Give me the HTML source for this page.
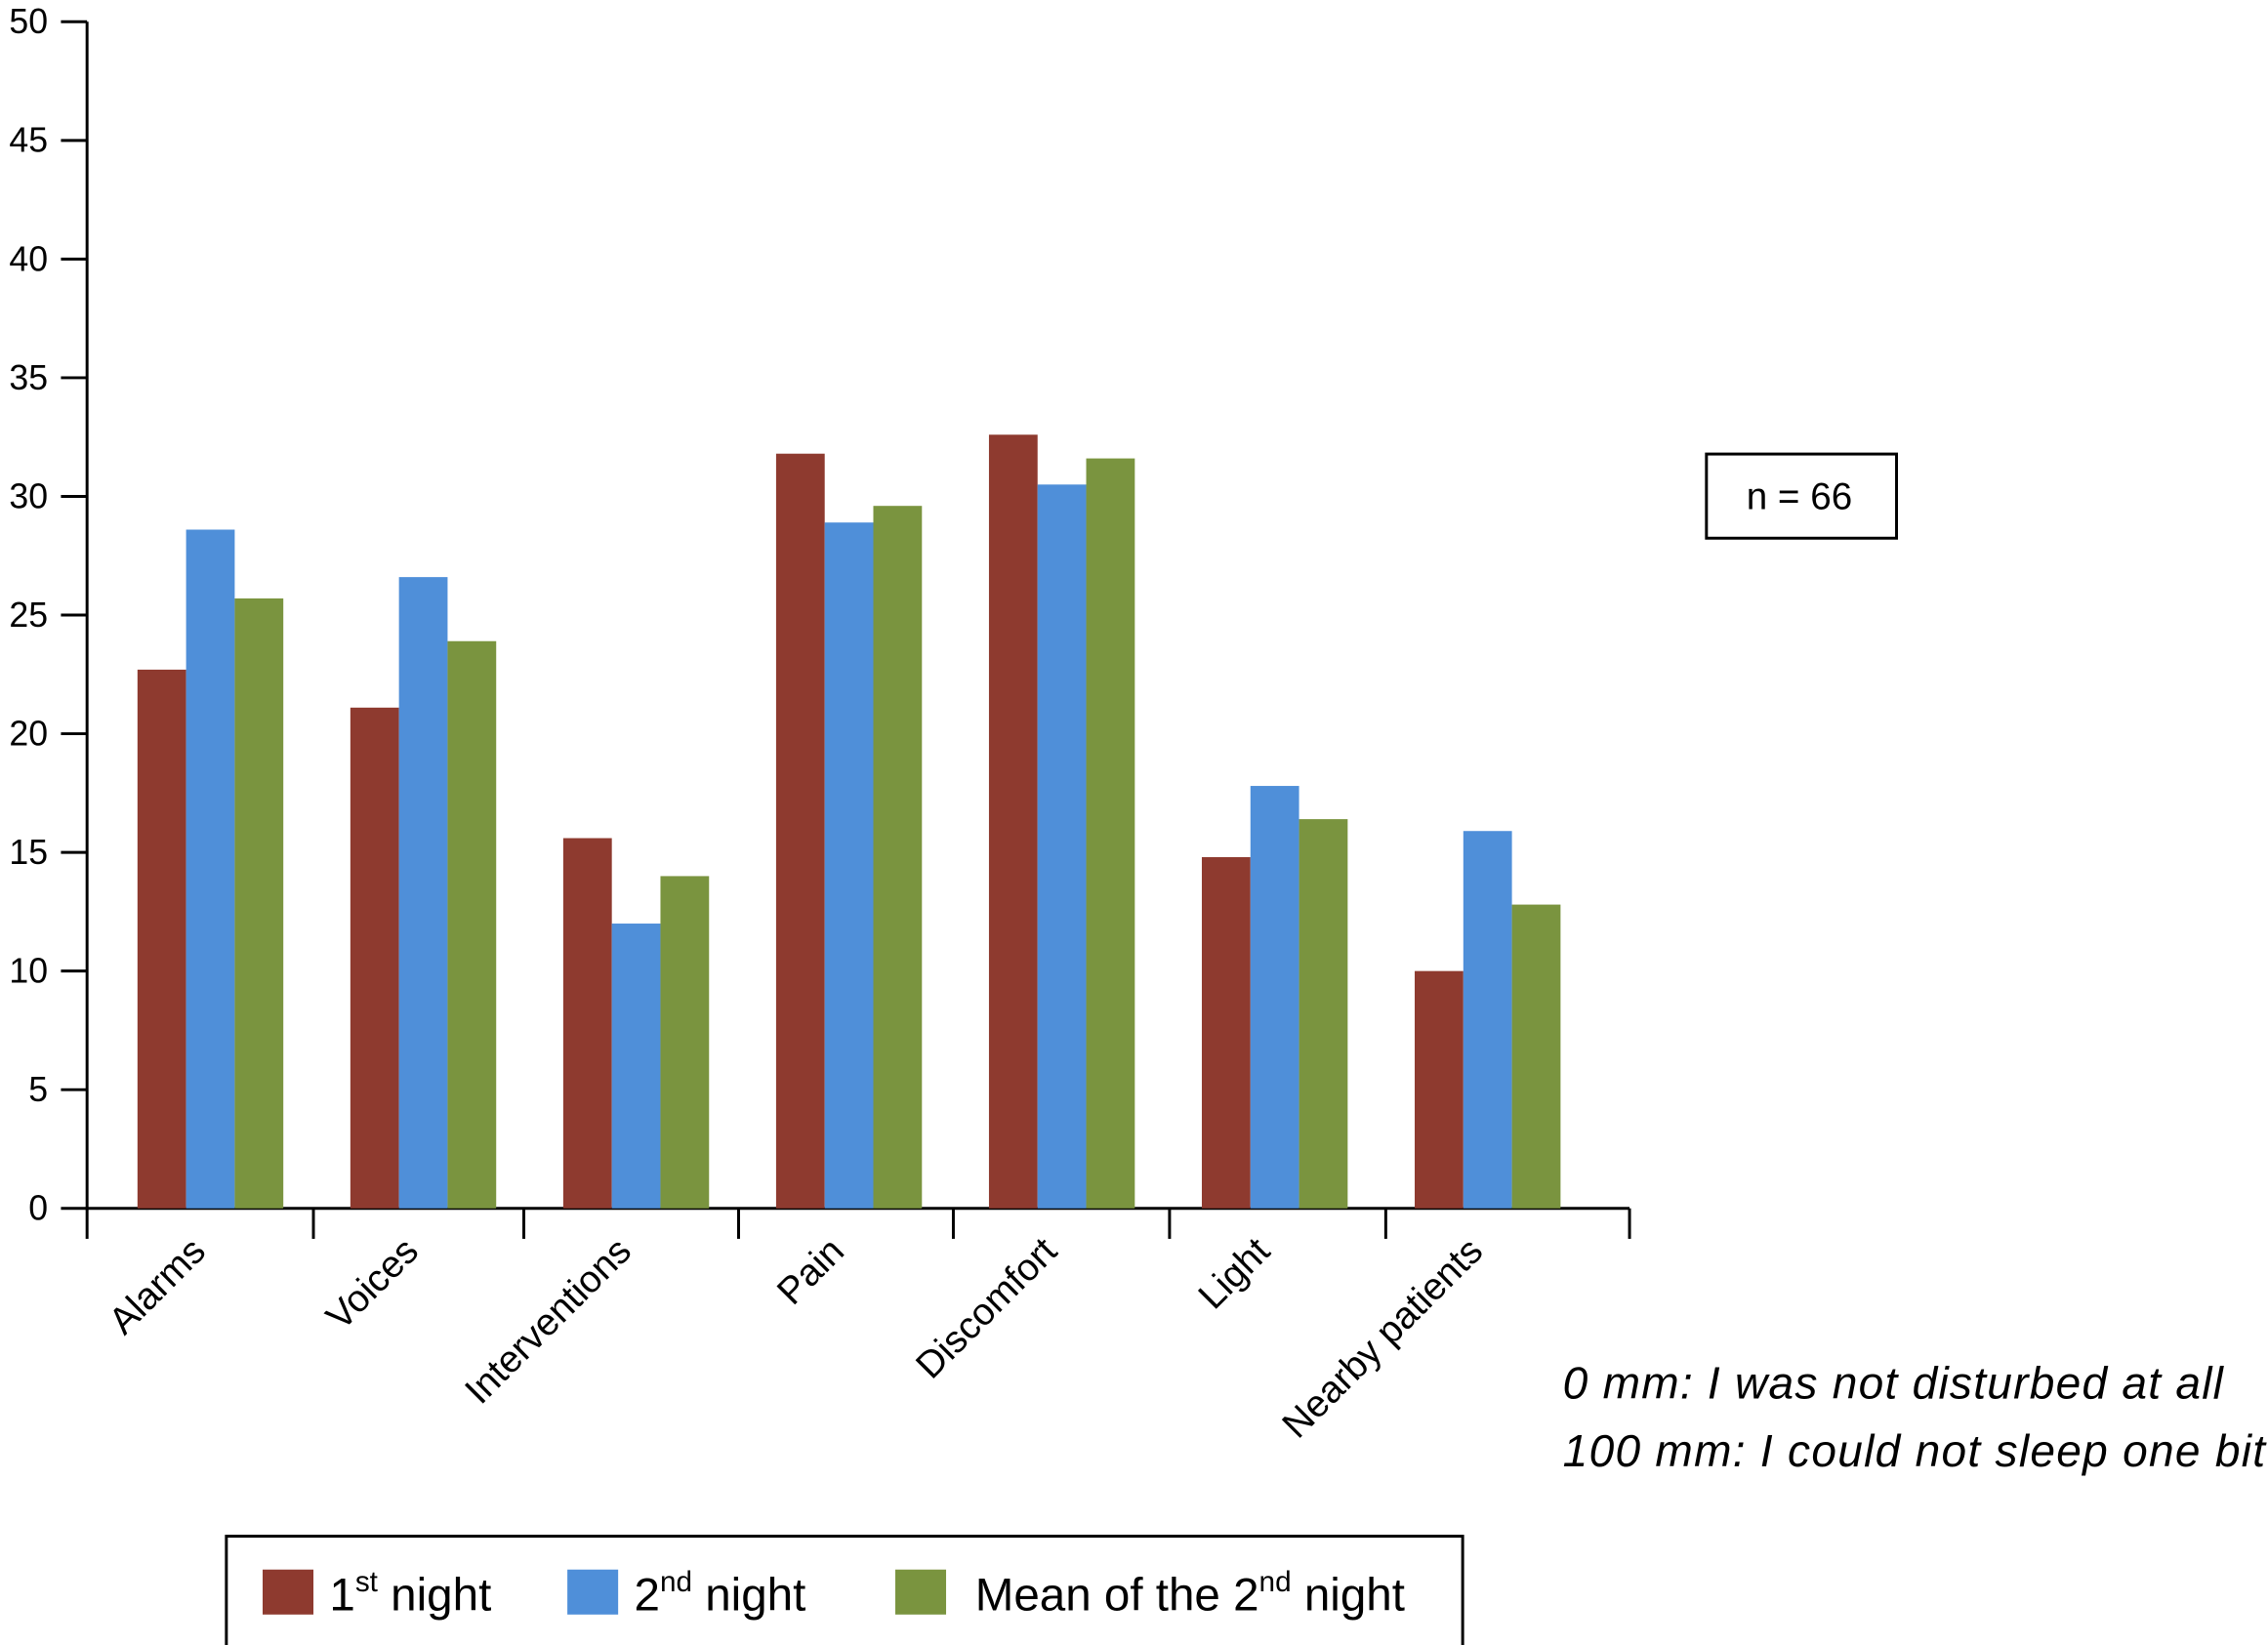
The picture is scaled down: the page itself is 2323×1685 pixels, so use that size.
<!DOCTYPE html>
<html><head><meta charset="utf-8"><style>html,body{margin:0;padding:0;background:#fff}svg{display:block}</style></head>
<body>
<svg width="2323" height="1685" viewBox="0 0 1563 1134" preserveAspectRatio="none" xmlns="http://www.w3.org/2000/svg" font-family="Liberation Sans, Arial, sans-serif">
<g id="axes"></g>
<g id="bars"></g>
<g>
<rect x="1176" y="313" width="131" height="58" fill="#fff" stroke="#000" stroke-width="2"/>
<text x="1240" y="351" font-size="26" text-anchor="middle">n = 66</text>
</g>
<g font-style="italic" font-size="31">
<text x="1077" y="964" textLength="455">0 mm: I was not disturbed at all</text>
<text x="1077" y="1011" textLength="484">100 mm: I could not sleep one bit</text>
</g>
<g>
<rect x="156" y="1059" width="852" height="76" fill="#fff" stroke="#000" stroke-width="2"/>
<rect x="181" y="1082" width="35" height="31" fill="#8e3a2f"/>
<text x="227" y="1110" font-size="32">1<tspan font-size="20" dy="-13">st</tspan><tspan dy="13"> night</tspan></text>
<rect x="391" y="1082" width="35" height="31" fill="#4f8fd9"/>
<text x="437" y="1110" font-size="32">2<tspan font-size="20" dy="-13">nd</tspan><tspan dy="13"> night</tspan></text>
<rect x="617" y="1082" width="35" height="31" fill="#7a943f"/>
<text x="672" y="1110" font-size="32">Mean of the 2<tspan font-size="20" dy="-13">nd</tspan><tspan dy="13"> night</tspan></text>
</g>
</svg>
<script>
const categories=["Alarms","Voices","Interventions","Pain","Discomfort","Light","Nearby patients"];
const night1=[22.7,21.1,15.6,31.8,32.6,14.8,10.0];
const night2=[28.6,26.6,12.0,28.9,30.5,17.8,15.9];
const mean2=[25.7,23.9,14.0,29.6,31.6,16.4,12.8];
const yTicks=[0,5,10,15,20,25,30,35,40,45,50];
const NS="http://www.w3.org/2000/svg";
const y=v=>833-v*(818/50);
const xc=i=>145+i*146.7;
const bw=33.5;
function mk(t,a,p){const e=document.createElementNS(NS,t);for(const k in a)e.setAttribute(k,a[k]);p.appendChild(e);return e;}
const ax=document.getElementById('axes');
const bars=document.getElementById('bars');
const yl=mk('line',{x1:60,y1:15,x2:60,y2:834,stroke:'#000','stroke-width':2},ax);


const xl=mk('line',{x1:59,y1:833,x2:1123,y2:833,stroke:'#000','stroke-width':2},ax);


yTicks.forEach(v=>{
 mk('line',{x1:42,y1:y(v),x2:60,y2:y(v),stroke:'#000','stroke-width':2},ax);
 const t=mk('text',{x:33,y:y(v)+8,'font-size':24,'text-anchor':'end'},ax);
 t.textContent=v;
 
 
});
const seps=[60,216,361,509,657,806,955,1123];
seps.forEach(s=>mk('line',{x1:s,y1:833,x2:s,y2:854,stroke:'#000','stroke-width':2},ax));
const series=[[night1,'#8e3a2f'],[night2,'#4f8fd9'],[mean2,'#7a943f']];
categories.forEach((c,i)=>{
 series.forEach(([arr,col],j)=>{
  const r=mk('rect',{x:xc(i)-1.5*bw+j*bw,y:y(arr[i]),width:bw,height:833-y(arr[i]),fill:col},bars);
  
  
 });
 const t=mk('text',{x:0,y:0,'font-size':26,'text-anchor':'end',transform:`translate(${xc(i)-2},${864}) rotate(-45)`},ax);
 t.textContent=c;
 
 
});
</script>
</body></html>
